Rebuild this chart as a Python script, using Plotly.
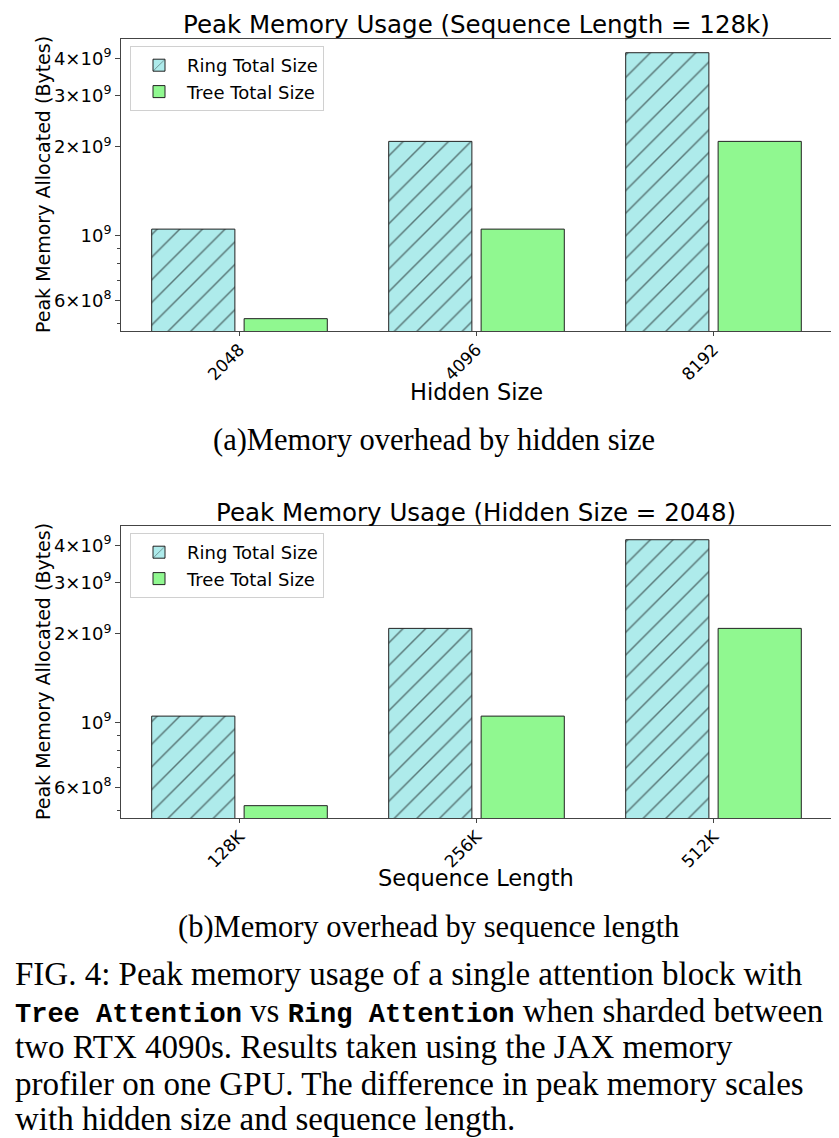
import plotly.graph_objects as go

# ---------------- data ----------------
hidden_sizes = ["2048", "4096", "8192"]
seq_lengths = ["128K", "256K", "512K"]
ring_by_hidden = [1.05e9, 2.09e9, 4.19e9]
tree_by_hidden = [5.2e8, 1.05e9, 2.09e9]
ring_by_seq = [1.05e9, 2.09e9, 4.19e9]
tree_by_seq = [5.2e8, 1.05e9, 2.09e9]

ytick_vals = [6e8, 1e9, 2e9, 3e9, 4e9]
ytick_text = ["6×10<sup>8</sup>", "10<sup>9</sup>", "2×10<sup>9</sup>",
              "3×10<sup>9</sup>", "4×10<sup>9</sup>"]
yminor_vals = [5e8, 7e8, 8e8, 9e8]

# page body has an 8px margin: the figure is shifted by it
OFF = 8
W, H = 839 - OFF, 1138 - OFF
RING_COLOR = "#AEEBEB"
TREE_COLOR = "#90F890"
EDGE = "#222222"
SANS = "DejaVu Sans"
SERIF = "Liberation Serif"
MONO = "Liberation Mono"


def px(x):
    return (x - OFF) / W


def py(y):
    return 1 - (y - OFF) / H


fig = go.Figure()

panels = [
    dict(cats=hidden_sizes, ring=ring_by_hidden, tree=tree_by_hidden,
         xa="x", ya="y", legend="legend"),
    dict(cats=seq_lengths, ring=ring_by_seq, tree=tree_by_seq,
         xa="x2", ya="y2", legend="legend2"),
]

for p in panels:
    fig.add_trace(go.Bar(
        x=p["cats"], y=p["ring"], name="Ring Total Size",
        xaxis=p["xa"], yaxis=p["ya"], legend=p["legend"],
        marker=dict(color=RING_COLOR, line=dict(color=EDGE, width=1),
                    pattern=dict(shape="/", fgcolor="#000000", bgcolor=RING_COLOR,
                                 size=16, solidity=0.09)),
    ))
    fig.add_trace(go.Bar(
        x=p["cats"], y=p["tree"], name="Tree Total Size",
        xaxis=p["xa"], yaxis=p["ya"], legend=p["legend"],
        marker=dict(color=TREE_COLOR, line=dict(color=EDGE, width=1)),
    ))

xdom = [px(121), px(832)]
dom_top = [py(331), py(39)]
dom_bot = [py(818), py(526)]

axis_common_x = dict(
    type="category", range=[-0.5, 2.5], showline=True, linecolor="#444",
    linewidth=1, mirror=True, ticks="outside", ticklen=4, tickcolor="#444",
    tickangle=-45, tickfont=dict(family=SANS, size=17, color="black"),
    ticklabelstandoff=-3,
    showgrid=False, zeroline=False, fixedrange=True,
)
axis_common_y = dict(
    type="log", range=[8.674, 9.669], showline=True, linecolor="#444",
    linewidth=1, mirror=True, ticks="outside", ticklen=5, tickcolor="#444",
    tickmode="array", tickvals=ytick_vals, ticktext=ytick_text,
    tickfont=dict(family=SANS, size=18, color="black"),
    minor=dict(tickmode="array", tickvals=yminor_vals, ticks="outside",
               ticklen=3, tickcolor="#444", showgrid=False),
    showgrid=False, zeroline=False, fixedrange=True,
)

legend_common = dict(
    xanchor="left", yanchor="top", bgcolor="white", bordercolor="#d0d0d0",
    borderwidth=1, font=dict(family=SANS, size=18, color="black"),
    tracegroupgap=0, itemwidth=46,
)

fig.update_layout(
    width=W, height=H, margin=dict(l=0, r=0, t=0, b=0),
    paper_bgcolor="white", plot_bgcolor="white",
    barmode="group", bargap=0.22, bargroupgap=0.1,
    xaxis=dict(domain=xdom, anchor="y", **axis_common_x),
    yaxis=dict(domain=dom_top, anchor="x", **axis_common_y),
    xaxis2=dict(domain=xdom, anchor="y2", **axis_common_x),
    yaxis2=dict(domain=dom_bot, anchor="x2", **axis_common_y),
    legend=dict(x=px(130), y=py(46), **legend_common),
    legend2=dict(x=px(130), y=py(533), **legend_common),
    showlegend=True,
)

ann = []


def text(x, y, s, size, family=SANS, angle=0, xanchor="center"):
    ann.append(dict(x=px(x), y=py(y), xref="paper", yref="paper", text=s,
                    showarrow=False, xanchor=xanchor, yanchor="middle",
                    textangle=angle,
                    font=dict(family=family, size=size, color="black")))


# panel (a)
text(476, 25, "Peak Memory Usage (Sequence Length = 128k)", 24.5)
text(43, 185, "Peak Memory Allocated (Bytes)", 19, angle=-90)
text(476, 392, "Hidden Size", 22.5)
text(434, 440, "(a)Memory overhead by hidden size", 30.5, family=SERIF)

# panel (b)
text(476, 513, "Peak Memory Usage (Hidden Size = 2048)", 24.5)
text(43, 672, "Peak Memory Allocated (Bytes)", 19, angle=-90)
text(476, 878, "Sequence Length", 22.5)
text(428, 927, "(b)Memory overhead by sequence length", 30.5, family=SERIF)

# figure caption
mono = lambda s: (f'<span style="font-family:{MONO};font-size:27px;'
                  f'font-weight:bold">{s}</span>')
caption_lines = [
    "FIG. 4: Peak memory usage of a single attention block with",
    f"{mono('Tree Attention')} vs {mono('Ring Attention')} when sharded between",
    "two RTX 4090s. Results taken using the JAX memory",
    "profiler on one GPU. The difference in peak memory scales",
    "with hidden size and sequence length.",
]
caption_y = [974, 1011, 1047, 1084, 1119]
for line, yy in zip(caption_lines, caption_y):
    text(13, yy, line, 33, family=SERIF, xanchor="left")

fig.update_layout(annotations=ann)
fig.write_html("out.html")
